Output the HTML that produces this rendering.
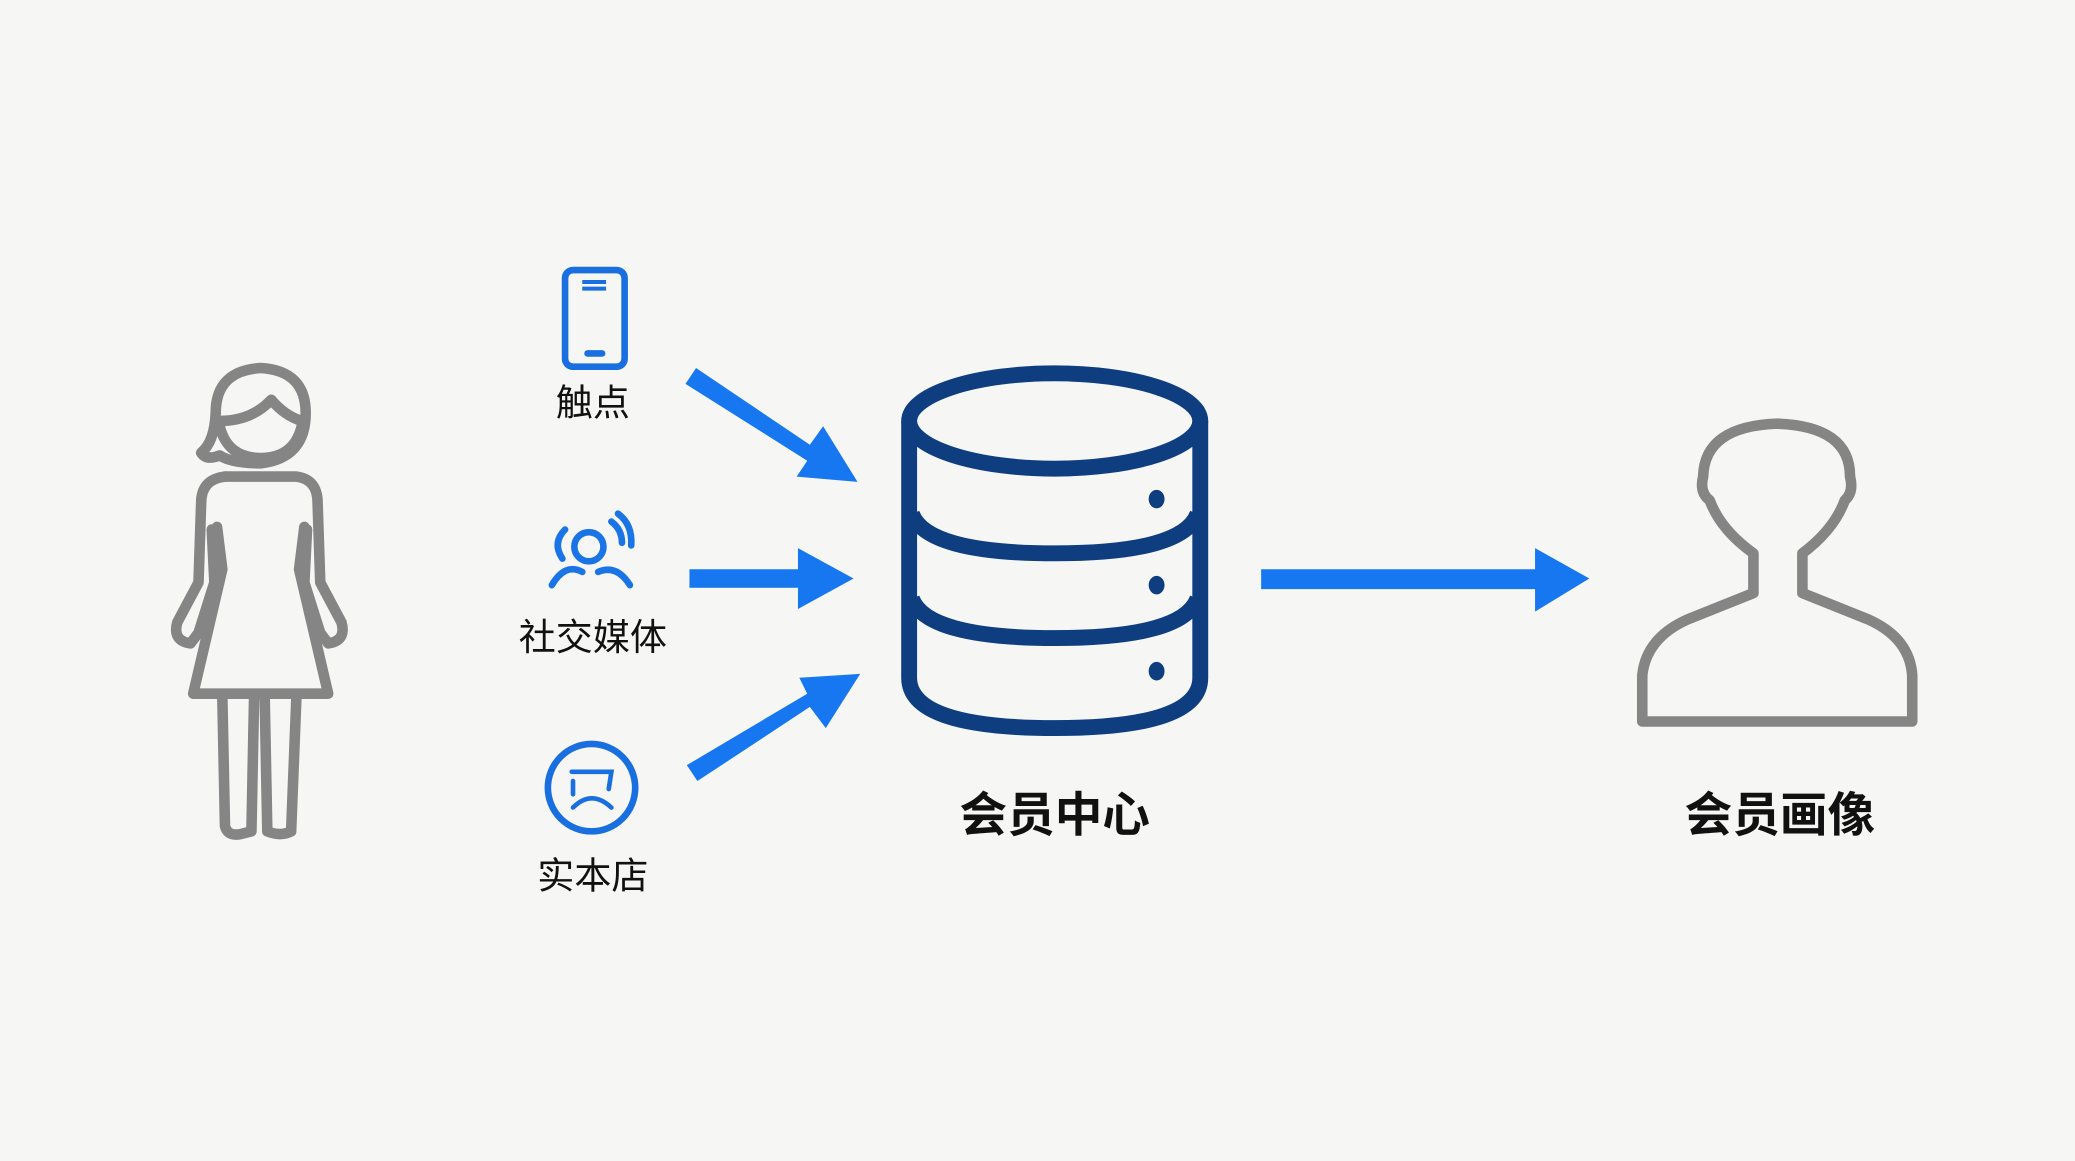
<!DOCTYPE html>
<html><head><meta charset="utf-8"><style>
html,body{margin:0;padding:0;background:#f6f6f4;}
svg{display:block}
text{font-family:"Liberation Sans","Noto Sans CJK SC",sans-serif;}
</style></head><body>
<svg width="2075" height="1161" viewBox="0 0 1568 877" preserveAspectRatio="none" xmlns="http://www.w3.org/2000/svg">
<rect width="1568" height="877" fill="#f6f6f4"/>
<!-- woman -->
<g fill="none" stroke="#858585" stroke-width="8" stroke-linejoin="round" stroke-linecap="round">
<path d="M163 312 Q163 280 197 278 Q231 280 231 312 Q231 346 197 350 Q175 350 166 344 Q156 348 152 342 Q162 334 163 312 Z"/>
<path d="M166 318 Q190 318 205 302 Q215 314 228 318"/>
<path d="M166 322 Q172 346 197 346 Q222 346 228 322"/>
<path d="M170 360 L224 360 Q240 362 240 380 L242 440 L258 470 Q262 484 248 486 L242 478 L230 440 L232 400"/>
<path d="M170 360 Q152 362 152 380 L150 440 L134 470 Q130 484 144 486 L150 478 L162 440 L160 400"/>
<path d="M164 398 L168 430 L146 524 L248 524 L226 430 L230 398"/>
<path d="M168 526 L170 624 Q172 632 182 630 L190 628 L192 526"/>
<path d="M200 526 L202 628 Q212 632 220 628 L224 526"/>
</g>
<!-- phone -->
<g fill="none" stroke="#1a6fe0" stroke-width="5">
<rect x="427" y="204" width="45" height="73" rx="6"/>
<line x1="440" y1="213" x2="458" y2="213" stroke-width="3"/>
<line x1="440" y1="218" x2="458" y2="218" stroke-width="3"/>
<line x1="444" y1="267" x2="455" y2="267" stroke-width="5" stroke-linecap="round"/>
</g>
<text x="448" y="314" font-size="28" text-anchor="middle" fill="#111">触点</text>
<!-- social -->
<g fill="none" stroke="#1a74e6" stroke-width="5" stroke-linecap="round">
<circle cx="445" cy="413" r="11"/>
<path d="M427 400 Q417 410 425 422"/>
<path d="M417 442 Q427 425 440 432"/>
<path d="M452 432 Q466 426 476 442"/>
<path d="M462 394 Q470 400 470 410"/>
<path d="M467 388 Q478 396 477 412"/>
</g>
<text x="448" y="491" font-size="28" text-anchor="middle" fill="#111">社交媒体</text>
<!-- store -->
<g fill="none" stroke="#1a6fe0" stroke-width="5" stroke-linecap="round">
<circle cx="447" cy="595" r="33"/>
<path d="M432 583 L462 583 L460 596" stroke-width="3.5"/>
<path d="M433 590 L433 600" stroke-width="3.5"/>
<path d="M433 610 Q447 596 462 610" stroke-width="3.5"/>
</g>
<text x="448" y="671" font-size="28" text-anchor="middle" fill="#111">实本店</text>
<!-- arrows -->
<g fill="#1677f0">
<polygon points="518,290 526,278 612,336 622,322 648,364 602,360 610,348"/>
<rect x="521" y="430" width="84" height="14"/>
<polygon points="603,414 645,437 603,460"/>
<polygon points="519,578 527,590 612,534 624,550 650,509 604,512 610,524"/>
<rect x="953" y="430" width="210" height="15"/>
<polygon points="1160,414 1201,437 1160,462"/>
</g>
<!-- cylinder -->
<g fill="none" stroke="#0e3d80" stroke-width="12">
<ellipse cx="797" cy="318" rx="110" ry="36"/>
<path d="M687 318 L687 512 Q687 550 797 550 Q907 550 907 512 L907 318"/>
<path d="M689 388 Q700 418 797 418 Q894 418 905 388"/>
<path d="M689 452 Q700 482 797 482 Q894 482 905 452"/>
</g>
<g fill="#0e3d80">
<ellipse cx="874" cy="377" rx="6" ry="7"/>
<ellipse cx="874" cy="442" rx="6" ry="7"/>
<ellipse cx="874" cy="507" rx="6" ry="7"/>
</g>
<text x="797" y="628" font-size="36" font-weight="bold" text-anchor="middle" fill="#111">会员中心</text>
<!-- bust -->
<path d="M1241 545 L1241 510 Q1244 482 1275 468 L1325 448 L1325 418 Q1300 400 1292 378 Q1284 372 1287 360 Q1288 322 1343 320 Q1398 322 1398 360 Q1401 372 1394 378 Q1386 400 1362 418 L1362 448 L1412 468 Q1443 482 1445 510 L1445 545 Z" fill="none" stroke="#858585" stroke-width="8" stroke-linejoin="round"/>
<text x="1345" y="628" font-size="36" font-weight="bold" text-anchor="middle" fill="#111">会员画像</text>
</svg>
</body></html>
